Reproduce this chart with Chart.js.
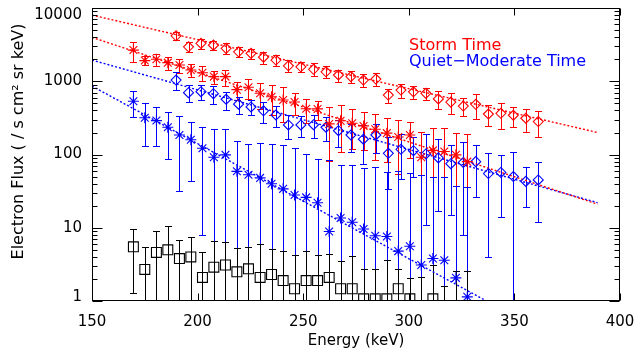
<!DOCTYPE html>
<html>
<head>
<meta charset="utf-8">
<script src="https://cdn.jsdelivr.net/npm/chart.js@4.4.0/dist/chart.umd.min.js"></script>
<style>
  body { margin: 0; background: #fff; }
  canvas { display: block; }
</style>
</head>
<body>
<canvas id="fluxChart" width="634" height="353"></canvas>
<script>
// ------------------------- DATA -------------------------------------

// channel energies (keV): diamonds and asterisks/squares come from two channel sets
var diamondEnergy = [189.8, 195.7, 201.6, 207.5, 213.5, 219.4, 225.3, 231.2, 237.1, 243.0,
                     248.9, 254.9, 260.8, 266.7, 272.6, 278.5, 284.4, 290.3, 296.3, 302.2,
                     308.1, 314.0, 319.9, 325.8, 331.7, 337.7, 343.6, 349.5, 355.4, 361.3];
var asteriskEnergy = [169.6, 175.0, 180.5, 185.9, 191.4, 196.8, 202.3, 207.7, 213.2, 218.6,
                      224.1, 229.6, 235.0, 240.5, 245.9, 251.4, 256.8, 262.3, 267.7, 273.2,
                      278.6, 284.1, 289.6, 295.0, 300.5, 305.9, 311.4, 316.8, 322.3, 327.7];

// storm time (red)
var stormDiamond = [4180, 2960, 3300, 3120, 2820, 2530, 2410, 2140, 1950, 1630,
                    1580, 1460, 1350, 1220, 1160, 1040, 1075, 650, 760, 720,
                    685, 575, 520, 460, 485, 358, 366, 344, 313, 282];
var stormDiamondErr = [465, 450, 510, 480, 475, 400, 370, 395, 330, 295,
                       260, 295, 250, 228, 210, 210, 212, 137, 165, 140,
                       135, 157, 163, 125, 177, 111, 140, 105, 110, 110];
var stormAsterisk = [2670, 1920, 2000, 1800, 1670, 1430, 1310, 1160, 1160, 770,
                     830, 686, 617, 556, 522, 422, 420, 262, 290, 268,
                     246, 222, 196, 174, 185, 92, 114, 110, 99, 80];
var stormAsteriskErr = [805, 270, 375, 350, 375, 290, 310, 245, 285, 215,
                        250, 270, 270, 280, 175, 155, 125, 180, 180, 150,
                        130, 138, 116, 120, 95, 114, 114, 118, 100, 111];

// quiet-moderate time (blue)
var quietDiamond = [1042, 700, 722, 678, 569, 488, 447, 396, 347, 254,
                    254, 256, 236, 212, 185, 162, 185, 104, 118, 113,
                    102, 90, 75, 78, 80, 55, 57, 50, 43, 45];
var quietDiamondErr = [285, 180, 162, 185, 157, 125, 102, 128, 111, 93,
                       80, 90, 85, 85, 77, 88, 80, 70, 72, 63,
                       91, 73, 60, 70, 54, 51, 43, 57, 24, 33];
var quietAsterisk = [535, 318, 291, 236, 185, 159, 122, 92, 99, 59,
                     53, 48, 40, 34, 28, 26, 22, 8.9, 13.6, 11.9,
                     9.6, 7.8, 7.6, 4.8, 5.6, 3.1, 3.8, 3.6, 2.07, 1.14];
var quietAsteriskErr = [210, 186, 160, 150, 153, 115, 114, 128, 121, 96,
                        87, 95, 100, 100, 94, 76, 65, 76, 58, 60,
                        55, 60, 50, 55, 50, 50, 45, 45, 35, 35];

// background (black squares)
var blackSquare = [5.5, 2.7, 4.6, 5.0, 3.8, 4.0, 2.1, 2.9, 3.1, 2.5,
                   2.75, 2.1, 2.3, 1.9, 1.47, 1.9, 1.9, 2.1, 1.47, 1.47,
                   1.07, 1.07, 1.07, 1.47, 1.07, 0.7, 1.07, 0.6, 0.6, 0.6];
var blackSquareErr = [4.2, 2.7, 4.3, 5.7, 3.1, 3.5, 2.6, 3.6, 3.2, 2.8,
                      2.75, 3.9, 2.8, 2.9, 2.8, 2.9, 2.4, 2.3, 2.0, 2.7,
                      1.7, 1.7, 2.6, 1.3, 1.0, 1.4, 2.0, 1.0, 1.95, 1.95];

// dotted exponential fits (end points)
var fitEnergy = [150, 389.4];
var stormDiamondFit = [8020, 200];
var stormAsteriskFit = [3980, 21];
var quietDiamondFit = [1950, 22];
var quietAsteriskFit = [861, 0.149];

// axis ticks / labels
var xTickValues = [150, 200, 250, 300, 350, 400];
var yMajor = [1, 10, 100, 1000, 10000];
var yLabels = ['1', '10', '100', '1000', '10000'];

var legendLabels = ['Storm Time', 'Quiet\u2212Moderate Time'];
var xTitle = 'Energy (keV)';
var yTitle = 'Electron Flux ( / s cm\u00b2 sr keV)';

var RED = '#ff0000';
var BLUE = '#0000ff';
var FONT = '"DejaVu Sans", sans-serif';

// ------------------------- HELPERS -------------------------------------

function toPoints(xs, ys) {
  return xs.map(function(x, i) { return {x: x, y: ys[i]}; });
}

function markerSet(xs, ys, errs, color, style, radius) {
  return {
    type: 'scatter',
    data: toPoints(xs, ys),
    err: errs,
    borderColor: color,
    backgroundColor: 'rgba(0,0,0,0)',
    pointStyle: style,
    pointRadius: radius,
    pointBorderWidth: 1.1,
    clip: 0
  };
}

function fitLine(ys, color) {
  return {
    type: 'line',
    data: toPoints(fitEnergy, ys),
    borderColor: color,
    borderWidth: 1.4,
    borderDash: [2, 2],
    pointRadius: 0,
    fill: false,
    clip: 0
  };
}

// error bars, drawn under the markers
var errorBars = {
  id: 'errorBars',
  beforeDatasetsDraw: function(chart) {
    var ctx = chart.ctx, a = chart.chartArea;
    var xs = chart.scales.x, ys = chart.scales.y;
    ctx.save();
    ctx.beginPath();
    ctx.rect(a.left, a.top, a.right - a.left, a.bottom - a.top);
    ctx.clip();
    ctx.lineWidth = 1;
    chart.data.datasets.forEach(function(ds) {
      if (!ds.err) return;
      ctx.strokeStyle = ds.borderColor;
      ds.data.forEach(function(p, i) {
        var px = Math.round(xs.getPixelForValue(p.x)) + 0.5;
        var hi = p.y + ds.err[i], lo = p.y - ds.err[i];
        var yHi = Math.round(ys.getPixelForValue(hi)) + 0.5;
        var yLo = lo > 0 ? Math.round(ys.getPixelForValue(lo)) + 0.5 : a.bottom + 5;
        ctx.beginPath();
        ctx.moveTo(px, yHi); ctx.lineTo(px, yLo);
        ctx.moveTo(px - 3.5, yHi); ctx.lineTo(px + 3.5, yHi);
        if (lo > 0) { ctx.moveTo(px - 3.5, yLo); ctx.lineTo(px + 3.5, yLo); }
        ctx.stroke();
      });
    });
    ctx.restore();
  }
};

// IDL style box: inward ticks on all four sides, y labels, titles, legend text
var frame = {
  id: 'frame',
  afterDraw: function(chart) {
    var ctx = chart.ctx, a = chart.chartArea;
    var xs = chart.scales.x, ys = chart.scales.y;
    var L = Math.round(a.left) + 0.5, R = Math.round(a.right) - 0.5;
    var T = Math.round(a.top) + 0.5, B = Math.round(a.bottom) - 0.5;
    ctx.save();
    ctx.strokeStyle = '#000';
    ctx.lineWidth = 1;
    ctx.strokeRect(L, T, R - L, B - T);

    ctx.beginPath();
    xTickValues.forEach(function(v) {
      var px = Math.round(xs.getPixelForValue(v)) + 0.5;
      ctx.moveTo(px, B); ctx.lineTo(px, B - 7);
      ctx.moveTo(px, T); ctx.lineTo(px, T + 7);
    });
    yMajor.forEach(function(v, k) {
      var py = Math.round(ys.getPixelForValue(v)) + 0.5;
      ctx.moveTo(L, py); ctx.lineTo(L + 10, py);
      ctx.moveTo(R, py); ctx.lineTo(R - 10, py);
      if (k === yMajor.length - 1) return;
      for (var m = 2; m < 10; m++) {
        var pm = Math.round(ys.getPixelForValue(v * m)) + 0.5;
        ctx.moveTo(L, pm); ctx.lineTo(L + 5, pm);
        ctx.moveTo(R, pm); ctx.lineTo(R - 5, pm);
      }
    });
    ctx.stroke();

    // y tick labels (ends pulled inside the box like the original)
    ctx.fillStyle = '#000';
    ctx.font = '15px ' + FONT;
    ctx.textAlign = 'right';
    ctx.textBaseline = 'middle';
    yMajor.forEach(function(v, k) {
      var py = ys.getPixelForValue(v);
      py = Math.min(Math.max(py, a.top + 7), a.bottom - 4);
      ctx.fillText(yLabels[k], a.left - 10, py);
    });

    // y title
    ctx.save();
    ctx.font = '16px ' + FONT;
    ctx.translate(18.5, 141.5);
    ctx.rotate(-Math.PI / 2);
    ctx.textAlign = 'center';
    ctx.fillText(yTitle, 0, 0);
    ctx.restore();

    // legend text
    ctx.font = '16px ' + FONT;
    ctx.textAlign = 'left';
    ctx.textBaseline = 'alphabetic';
    ctx.fillStyle = RED;
    ctx.fillText(legendLabels[0], 409, 50);
    ctx.fillStyle = BLUE;
    ctx.fillText(legendLabels[1], 409, 66);
    ctx.restore();
  }
};

// ------------------------- CHART -------------------------------------

var chart = new Chart(document.getElementById('fluxChart'), {
  data: {
    datasets: [
      markerSet(diamondEnergy, stormDiamond, stormDiamondErr, RED, 'rectRot', 5),
      markerSet(asteriskEnergy, stormAsterisk, stormAsteriskErr, RED, 'star', 5.5),
      markerSet(diamondEnergy, quietDiamond, quietDiamondErr, BLUE, 'rectRot', 5),
      markerSet(asteriskEnergy, quietAsterisk, quietAsteriskErr, BLUE, 'star', 5.5),
      markerSet(asteriskEnergy, blackSquare, blackSquareErr, '#000', 'rect', 7),
      fitLine(stormDiamondFit, RED),
      fitLine(stormAsteriskFit, RED),
      fitLine(quietDiamondFit, BLUE),
      fitLine(quietAsteriskFit, BLUE)
    ]
  },
  options: {
    responsive: false,
    animation: false,
    devicePixelRatio: 1,
    layout: { padding: { top: 8, right: 14, left: 0, bottom: 0 } },
    plugins: { legend: { display: false }, tooltip: { enabled: false } },
    scales: {
      x: {
        type: 'linear',
        min: 150,
        max: 400,
        afterBuildTicks: function(s) { s.ticks = xTickValues.map(function(v) { return {value: v}; }); },
        afterFit: function(s) { s.height = 52; s.paddingLeft = 0; s.paddingRight = 0; },
        grid: { display: false, drawTicks: false },
        border: { display: false },
        ticks: { font: { family: FONT, size: 15 }, color: '#000', padding: 12, maxRotation: 0, autoSkip: false },
        title: { display: true, text: xTitle, font: { family: FONT, size: 15 }, color: '#000', padding: { top: 0, bottom: 3 } }
      },
      y: {
        type: 'logarithmic',
        min: 1,
        max: 10000,
        afterFit: function(s) { s.width = 92; },
        grid: { display: false, drawTicks: false },
        border: { display: false },
        ticks: { display: false }
      }
    }
  },
  plugins: [errorBars, frame]
});
</script>
</body>
</html>
